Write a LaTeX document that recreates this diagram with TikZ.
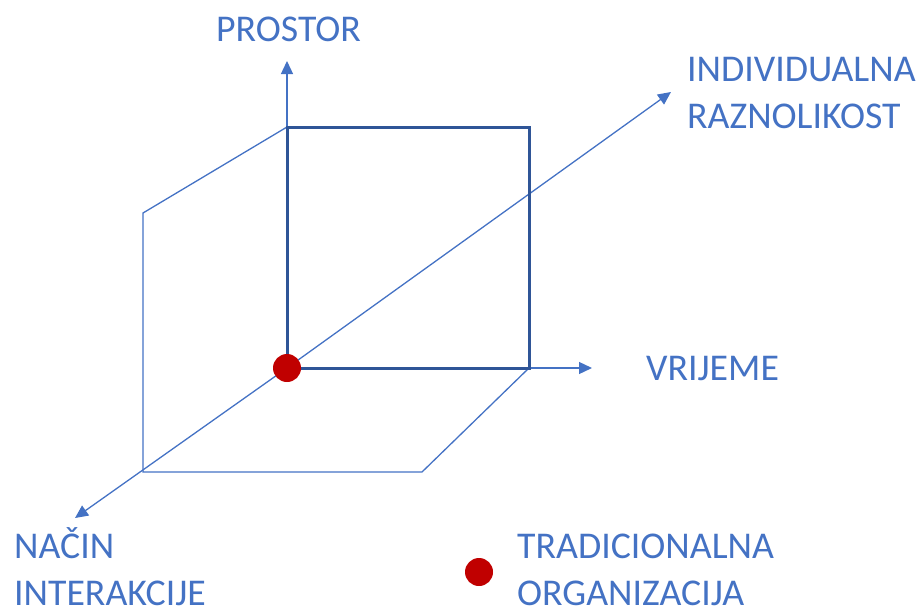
\documentclass[tikz,border=0pt]{standalone}
\usepackage{fontspec}
\setmainfont{Carlito}
\usetikzlibrary{arrows.meta}
\definecolor{axblue}{HTML}{4472C4}
\definecolor{sqblue}{HTML}{2F5597}
\definecolor{dotred}{HTML}{C00000}
\begin{document}
\begin{tikzpicture}[x=1pt,y=-1pt,
  axis/.style={draw=axblue,line width=1.3pt,-{Triangle[length=13pt,width=12pt]}},
  plane/.style={draw=axblue,line width=1.3pt},
  square/.style={draw=sqblue,line width=3pt},
  lbl/.style={text=axblue,font=\fontsize{37.8}{46.5}\selectfont,inner sep=0pt,anchor=base west,align=left},
  dot/.style={circle,fill=dotred,minimum size=28pt,inner sep=0pt}]
\useasboundingbox (0,0) rectangle (922,608);
\coordinate (O) at (287,368);
\coordinate (Ptop) at (287,61);
\coordinate (Pright) at (592,368);
\coordinate (Pdiag1) at (671,92);
\coordinate (Pdiag2) at (75,518);
\coordinate (A) at (287,127);
\coordinate (B) at (143,213);
\coordinate (C) at (143,472);
\coordinate (D) at (422,472);
\coordinate (E) at (529,368);
\coordinate (F) at (529,127);
% planes
\draw[plane] (A) -- (B) -- (C) -- (D) -- (E);
% axes
\draw[axis] (O) -- (Ptop);
\draw[axis] (O) -- (Pright);
\draw[axis] (O) -- (Pdiag1);
\draw[axis] (O) -- (Pdiag2);
% square
\draw[square,line join=miter] (O) -- (A) -- (F) -- (E) -- cycle;
\node[dot] (origin) at (O) {};
% labels
\node[lbl] (prostor) at (216,41) {PROSTOR};
\node[lbl] (indiv) at (687,128) {INDIVIDUALNA\\RAZNOLIKOST};
\node[lbl] (vrijeme) at (646,380) {VRIJEME};
\node[lbl] (nacin) at (14,605) {NAČIN\\INTERAKCIJE};
\node[dot] (legdot) at (479,572) {};
\node[lbl] (trad) at (517,605) {TRADICIONALNA\\ORGANIZACIJA};
\end{tikzpicture}
\end{document}
